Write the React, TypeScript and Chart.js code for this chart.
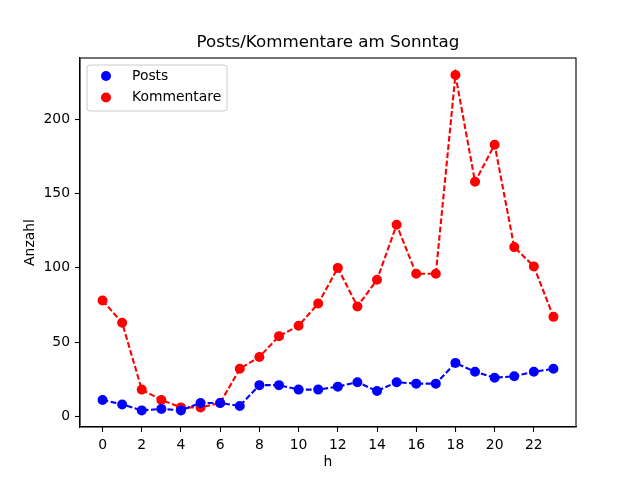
import { useEffect, useRef } from "react";
import { Chart, registerables } from "chart.js";

Chart.register(...registerables);

const hours = [0, 1, 2, 3, 4, 5, 6, 7, 8, 9, 10, 11, 12, 13, 14, 15, 16, 17, 18, 19, 20, 21, 22, 23];
const posts = [11, 8, 4, 5, 4, 9, 9, 7, 21, 21, 18, 18, 20, 23, 17, 23, 22, 22, 36, 30, 26, 27, 30, 32];
const kommentare = [78, 63, 18, 11, 6, 6, 9, 32, 40, 54, 61, 76, 100, 74, 92, 129, 96, 96, 230, 158, 183, 114, 101, 67];
const xTicks = [0, 2, 4, 6, 8, 10, 12, 14, 16, 18, 20, 22];
const yTicks = [0, 50, 100, 150, 200];

const FONT = "DejaVu Sans";

const frame = {
  id: "frame",
  afterDraw(chart: any) {
    const { ctx, chartArea: a } = chart;
    ctx.save();
    ctx.strokeStyle = "#000";
    ctx.lineWidth = 1.1;
    ctx.strokeRect(a.left, a.top, a.right - a.left, a.bottom - a.top);

    ctx.fillStyle = "#000";
    ctx.textAlign = "center";
    ctx.textBaseline = "middle";
    ctx.font = `16.7px ${FONT}`;
    ctx.fillText("Posts/Kommentare am Sonntag", (a.left + a.right) / 2, 43);
    ctx.font = `13.9px ${FONT}`;
    ctx.fillText("h", (a.left + a.right) / 2, 462);
    ctx.save();
    ctx.translate(30, (a.top + a.bottom) / 2);
    ctx.rotate(-Math.PI / 2);
    ctx.fillText("Anzahl", 0, 0);
    ctx.restore();

    // legend
    const lx = 87, ly = 65, lw = 140, lh = 46, r = 3;
    ctx.beginPath();
    ctx.moveTo(lx + r, ly);
    ctx.arcTo(lx + lw, ly, lx + lw, ly + lh, r);
    ctx.arcTo(lx + lw, ly + lh, lx, ly + lh, r);
    ctx.arcTo(lx, ly + lh, lx, ly, r);
    ctx.arcTo(lx, ly, lx + lw, ly, r);
    ctx.closePath();
    ctx.fillStyle = "rgba(255,255,255,0.8)";
    ctx.fill();
    ctx.strokeStyle = "#cccccc";
    ctx.lineWidth = 1;
    ctx.stroke();
    chart.data.datasets.forEach((ds: any, i: number) => {
      const y = 76 + i * 21.5;
      ctx.fillStyle = ds.pointBackgroundColor;
      ctx.beginPath();
      ctx.arc(106, y, 5, 0, Math.PI * 2);
      ctx.fill();
      ctx.fillStyle = "#000";
      ctx.textAlign = "left";
      ctx.font = `13.9px ${FONT}`;
      ctx.fillText(ds.label, 132, y);
    });
    ctx.restore();
  },
};

export default function App() {
  const canvasRef = useRef<HTMLCanvasElement | null>(null);
  const chartRef = useRef<Chart | null>(null);

  useEffect(() => {
    if (!canvasRef.current) return;
    chartRef.current?.destroy();
    const line = (label: string, values: number[], color: string) => ({
      label,
      data: hours.map((h, i) => ({ x: h, y: values[i] })),
      borderColor: color,
      backgroundColor: color,
      pointBackgroundColor: color,
      pointBorderColor: color,
      pointBorderWidth: 1.6,
      pointRadius: 4.2,
      borderWidth: 2.1,
      borderDash: [5.8, 2.5],
      tension: 0,
      clip: false as any,
    });
    chartRef.current = new Chart(canvasRef.current, {
      type: "line",
      data: {
        datasets: [line("Posts", posts, "#0000ff"), line("Kommentare", kommentare, "#ff0000")],
      },
      plugins: [frame],
      options: {
        responsive: false,
        animation: false,
        devicePixelRatio: 1,
        layout: { padding: { top: 58, right: 64, bottom: 0, left: 0 } },
        plugins: { legend: { display: false }, title: { display: false }, tooltip: { enabled: false } },
        scales: {
          x: {
            type: "linear",
            min: -1.15,
            max: 24.15,
            afterBuildTicks: (s: any) => {
              s.ticks = xTicks.map((v) => ({ value: v }));
            },
            afterFit: (s: any) => {
              s.height = 53;
            },
            grid: { drawOnChartArea: false, drawTicks: true, tickLength: 5, color: "#000", tickWidth: 1.1 },
            border: { display: true, color: "#000", width: 1.1 },
            ticks: { color: "#000", font: { family: FONT, size: 13.9 }, padding: 5, maxRotation: 0, autoSkip: false },
          },
          y: {
            type: "linear",
            min: -7.2,
            max: 241.4,
            afterBuildTicks: (s: any) => {
              s.ticks = yTicks.map((v) => ({ value: v }));
            },
            afterFit: (s: any) => {
              s.width = 80;
            },
            grid: { drawOnChartArea: false, drawTicks: true, tickLength: 5, color: "#000", tickWidth: 1.1 },
            border: { display: true, color: "#000", width: 1.1 },
            ticks: { color: "#000", font: { family: FONT, size: 13.9 }, padding: 5, autoSkip: false },
          },
        },
      },
    });
    return () => {
      chartRef.current?.destroy();
      chartRef.current = null;
    };
  }, []);

  return (
    <div style={{ position: "absolute", left: 0, top: 0, width: 640, height: 480, background: "#fff" }}>
      <canvas ref={canvasRef} width={640} height={480} />
    </div>
  );
}
